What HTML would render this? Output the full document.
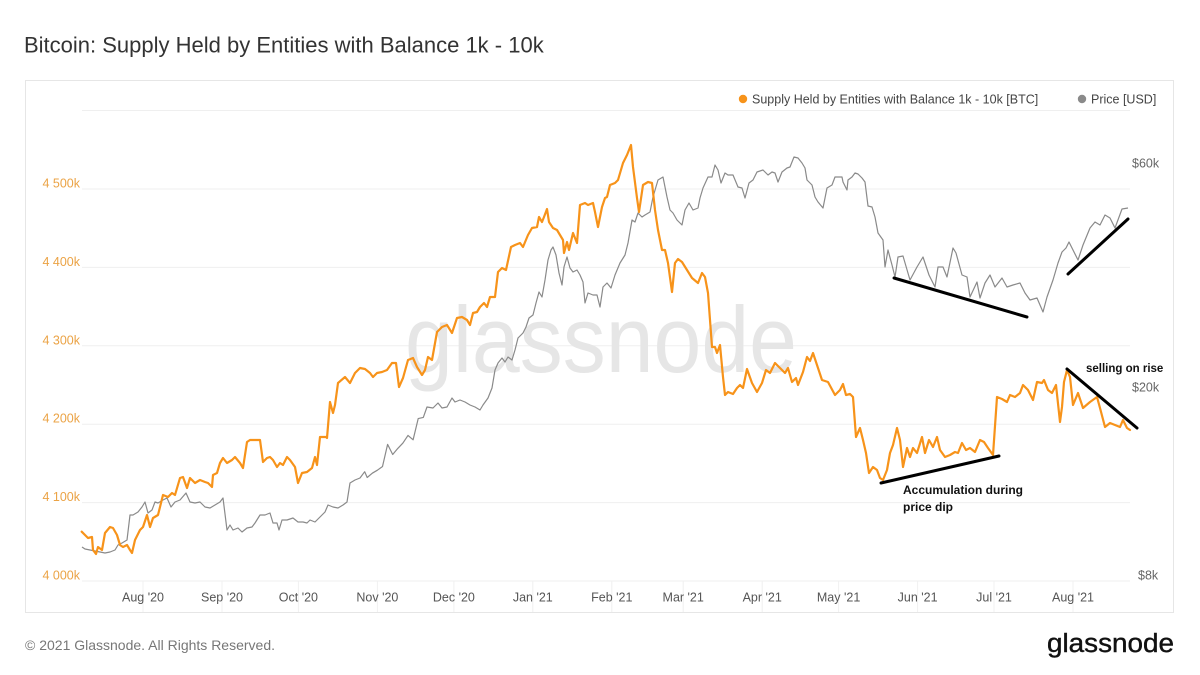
<!DOCTYPE html>
<html>
<head>
<meta charset="utf-8">
<style>
html,body{margin:0;padding:0;background:#fff;}
body{width:1200px;height:675px;overflow:hidden;}
svg{display:block;font-family:"Liberation Sans",Arial,sans-serif;}
</style>
</head>
<body>
<svg width="1200" height="675" viewBox="0 0 1200 675" xmlns="http://www.w3.org/2000/svg">
<rect x="0" y="0" width="1200" height="675" fill="#fff"/>
<text x="24" y="52.5" font-size="22" fill="#333">Bitcoin: Supply Held by Entities with Balance 1k - 10k</text>

<rect x="25.5" y="80.5" width="1148" height="532" fill="#fff" stroke="#e6e6e6" stroke-width="1"/>

<!-- gridlines -->
<g stroke="#efefef" stroke-width="1">
<line x1="82" y1="110.5" x2="1130" y2="110.5"/>
<line x1="82" y1="189" x2="1130" y2="189"/>
<line x1="82" y1="267.4" x2="1130" y2="267.4"/>
<line x1="82" y1="345.8" x2="1130" y2="345.8"/>
<line x1="82" y1="424.2" x2="1130" y2="424.2"/>
<line x1="82" y1="502.6" x2="1130" y2="502.6"/>
<line x1="82" y1="581" x2="1130" y2="581"/>
</g>
<g stroke="#f0f0f0" stroke-width="1">
<line x1="143" y1="581" x2="143" y2="612"/>
<line x1="222" y1="581" x2="222" y2="612"/>
<line x1="298.4" y1="581" x2="298.4" y2="612"/>
<line x1="377.4" y1="581" x2="377.4" y2="612"/>
<line x1="453.9" y1="581" x2="453.9" y2="612"/>
<line x1="532.8" y1="581" x2="532.8" y2="612"/>
<line x1="611.8" y1="581" x2="611.8" y2="612"/>
<line x1="683.2" y1="581" x2="683.2" y2="612"/>
<line x1="762.2" y1="581" x2="762.2" y2="612"/>
<line x1="838.6" y1="581" x2="838.6" y2="612"/>
<line x1="917.6" y1="581" x2="917.6" y2="612"/>
<line x1="994" y1="581" x2="994" y2="612"/>
<line x1="1073" y1="581" x2="1073" y2="612"/>
</g>

<!-- watermark -->
<text x="405" y="372" font-size="94" fill="#e6e6e6" textLength="392" lengthAdjust="spacingAndGlyphs">glassnode</text>

<!-- legend -->
<circle cx="743" cy="99" r="4.2" fill="#f7931a"/>
<text x="752" y="103.5" font-size="12.5" fill="#444">Supply Held by Entities with Balance 1k - 10k [BTC]</text>
<circle cx="1082" cy="99" r="4.2" fill="#8a8a8a"/>
<text x="1091" y="103.5" font-size="12.5" fill="#444">Price [USD]</text>

<!-- left axis labels -->
<g font-size="12.5" fill="#eba345" text-anchor="end">
<text x="80" y="187.5">4 500k</text>
<text x="80" y="265.9">4 400k</text>
<text x="80" y="344.3">4 300k</text>
<text x="80" y="422.7">4 200k</text>
<text x="80" y="501.1">4 100k</text>
<text x="80" y="579.5">4 000k</text>
</g>
<!-- right axis labels -->
<g font-size="12.5" fill="#666">
<text x="1132" y="167.5">$60k</text>
<text x="1132" y="391.5">$20k</text>
<text x="1138" y="579.5">$8k</text>
</g>
<!-- x labels -->
<g font-size="12.5" fill="#555" text-anchor="middle">
<text x="143" y="601.5">Aug '20</text>
<text x="222" y="601.5">Sep '20</text>
<text x="298.4" y="601.5">Oct '20</text>
<text x="377.4" y="601.5">Nov '20</text>
<text x="453.9" y="601.5">Dec '20</text>
<text x="532.8" y="601.5">Jan '21</text>
<text x="611.8" y="601.5">Feb '21</text>
<text x="683.2" y="601.5">Mar '21</text>
<text x="762.2" y="601.5">Apr '21</text>
<text x="838.6" y="601.5">May '21</text>
<text x="917.6" y="601.5">Jun '21</text>
<text x="994" y="601.5">Jul '21</text>
<text x="1073" y="601.5">Aug '21</text>
</g>

<!-- price series -->
<polyline fill="none" stroke="#8a8a8a" stroke-width="1.2" stroke-linejoin="round" points="82,547 85,549 90,550 95,551 100,552 105,553 110,552 115,550 118,545 122,543 127,540 130,515 133,515 138,512 142,507 145,502 148,513 152,510 155,502 158,503 163,500 167,498 171,507 175,502 180,500 186,493 190,502 195,503 200,502 205,507 210,508 215,505 220,502 223,498 227,530 230,525 233,530 238,528 242,532 247,528 252,527 255,523 260,515 265,515 270,513 273,523 277,523 279,530 282,520 287,520 293,518 298,522 303,522 307,523 310,520 315,522 320,517 325,512 328,505 333,507 338,508 343,505 347,502 350,483 355,480 360,478 364.7,471.7 367.2,477.5 372.3,473.2 377.4,470.2 382.5,466.5 387.6,444.4 392.7,454.5 397.8,448.4 402.9,443.1 408,435.4 413.1,439.8 418.2,418.6 423.3,417.4 427,407 433,408 438,403 442,408 447,407 452,398 455,402 460,400 465,402 470,405 475,407 480,410 483,405 488,398 492,388 495,370 498,363 502,358 505,362 508,357 512,360 515,350 518,338 523,333 526,327 529,318 533,315 536,303 539,292 542,297 545,280 548,260 551,250 553,247 556,255 559,273 562,285 564,267 567,257 570,268 573,272 577,270 580,275 583,282 585,303 588,293 593,295 597,295 600,307 603,287 607,283 611,288 615,275 620,263 625,255 628,243 632,220 635,222 638,213 642,217 645,215 650,212 653,197 658,180 663,177 667,197 670,210 673,213 677,220 682,225 685,210 689,203 693,210 698,208 700,198 703,188 708,177 712,177 715,165 718,170 721,183 725,173 728,175 733,175 738,187 742,188 745,198 749,183 753,180 757,172 763,170 768,175 772,172 775,173 778,182 782,172 787,168 790,167 794,157 798,158 802,163 805,168 807,180 812,185 815,197 818,202 823,208 827,188 832,185 835,177 838,177 842,177 843,182 847,190 848,180 852,177 855,173 858,174 862,178 865,182 868,206 872,207 875,217 878,233 883,240 885,267 888,250 892,265 895,277 898,257 903,256 910,280 917,267 923,257 929,275 935,287 938,267 943,267 947,277 953,248 956,253 962,275 967,277 970,297 977,282 980,298 985,283 990,275 995,287 1002,278 1007,287 1013,285 1020,283 1025,293 1030,300 1037,298 1043,312 1047,297 1053,280 1058,263 1062,252 1066,248 1069,242 1073,250 1078,260 1083,245 1090,228 1095,222 1100,225 1105,215 1110,218 1115,228 1122,209 1128,208"/>

<!-- supply series -->
<polyline fill="none" stroke="#f7931a" stroke-width="2.2" stroke-linejoin="round" stroke-linecap="round" points="81.7,531.7 85,535 88,538 92,537 93,550 96,554 98,547 102,550 105,533 110,527 113,528 117,535 120,545 123,547 127,545 130,550 132,553 135,540 140,530 143,527 147,515 150,527 153,518 158,515 163,495 168,497 172,493 175,495 180,478 183,477 187,488 190,478 195,483 200,480 205,482 208,483 212,487 213,475 217,473 220,463 223,458 227,463 232,460 235,457 240,463 243,468 247,442 250,440 257,440 260,440 263,462 267,458 270,457 273,460 277,467 280,463 283,465 287,457 290,460 295,467 298,483 302,473 307,472 312,468 315,457 317,465 320,437 326,437 327,438 330,402 333,413 335,405 338,383 345,377 350,383 355,373 360,368 365,369 370,373 373,377 377,373 382,372 387,370 392,363 396,363 399,387 403,378 408,360 413,358 417,367 422,375 425,370 428,357 432,360 437,332 442,327 447,325 452,333 457,318 462,317 467,320 470,325 473,313 477,312 480,307 484,303 487,307 490,297 495,297 498,272 502,268 506,270 511,247 515,245 520,243 523,247 528,235 532,228 537,227 539,217 542,222 544,217 547,209 549,222 553,228 557,230 560,235 563,240 564,253 567,242 569,250 573,233 577,243 580,205 585,203 588,205 593,203 595,212 598,227 602,207 605,198 607,197 610,185 615,183 618,180 623,163 627,155 631,145 633,167 637,198 639,212 643,185 648,182 652,183 655,210 658,230 662,250 665,250 668,263 672,292 675,263 678,259 682,262 687,270 692,278 698,283 702,273 705,277 708,293 712,347 715,347 717,353 720,345 723,377 725,395 728,392 733,394 737,388 740,385 743,388 747,369 752,383 757,392 762,383 766,370 770,373 775,363 780,368 785,373 788,368 792,382 796,378 798,385 803,372 807,357 810,361 813,353 818,368 822,380 828,382 835,395 840,390 843,384 846,395 850,394 853,397 856,437 860,428 863,440 866,453 869,473 873,467 877,470 880,478 883,480 887,470 890,453 893,445 897,428 900,440 903,467 907,448 910,457 913,448 917,453 922,437 925,453 929,440 933,447 937,437 940,450 945,457 950,455 955,452 958,453 962,443 966,450 970,448 975,452 980,440 984,442 988,448 993,455 997,397 1002,399 1007,402 1010,395 1015,397 1020,393 1023,385 1028,390 1033,400 1037,382 1042,383 1044,380 1048,390 1052,393 1056,385 1060,422 1062,407 1064,382 1067,370 1070,377 1073,405 1078,393 1083,408 1090,402 1097,397 1100,408 1105,427 1110,423 1115,425 1120,427 1123,420 1127,428 1130,430"/>

<!-- annotations -->
<g stroke="#000" stroke-width="3" stroke-linecap="round">
<line x1="881" y1="483" x2="999" y2="456"/>
<line x1="1067" y1="369" x2="1137" y2="428"/>
<line x1="894" y1="278" x2="1027" y2="317"/>
<line x1="1068" y1="274" x2="1128" y2="219"/>
</g>
<g font-size="12" font-weight="bold" fill="#111">
<text x="903" y="494">Accumulation during</text>
<text x="903" y="511">price dip</text>
<text x="1086" y="372" font-size="11.5">selling on rise</text>
</g>

<!-- footer -->
<text x="25" y="650" font-size="14" fill="#777">© 2021 Glassnode. All Rights Reserved.</text>
<text x="1047" y="652" font-size="25.5" fill="#111" textLength="127" lengthAdjust="spacingAndGlyphs" stroke="#111" stroke-width="0.4">glassnode</text>
</svg>
</body>
</html>
